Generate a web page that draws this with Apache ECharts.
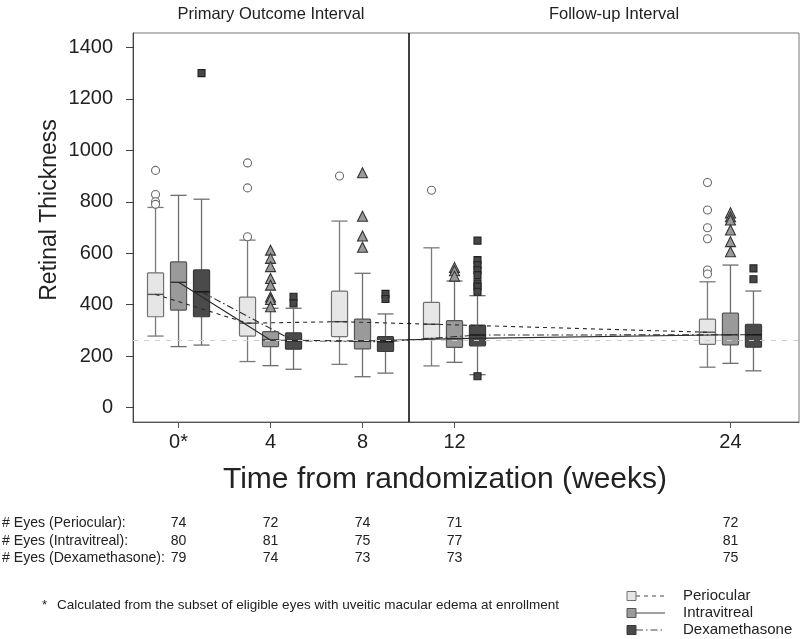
<!DOCTYPE html>
<html><head><meta charset="utf-8">
<script src="https://cdn.jsdelivr.net/npm/echarts@6/dist/echarts.min.js"></script>
<style>html,body{margin:0;padding:0;background:#fff}#c{width:800px;height:639px}</style>
</head><body><div id="c"></div><script>
// ---- data ----
const weeks = [0, 4, 8, 12, 24];
const weekLabels = ['0*', '4', '8', '12', '24'];
const yTicks = [0, 200, 400, 600, 800, 1000, 1200, 1400];
const groupNames = ['Periocular', 'Intravitreal', 'Dexamethasone'];
// [lower whisker, Q1, median, Q3, upper whisker] per week
const periocularBox = [[278,353,440,524,778],[179,278,328,429,651],[168,276,334,453,725],[162,269,324,409,621],[157,246,293,344,489]];
const intravitrealBox = [[237,379,487,566,825],[163,237,263,295,386],[120,228,259,344,522],[176,234,268,338,492],[172,244,283,367,554]];
const dexamethasoneBox = [[243,353,450,535,810],[149,227,260,291,386],[134,218,256,276,364],[128,240,282,321,435],[143,235,283,324,453]];
const periocularOutliers = [[922,828,800,790],[951,854,664],[900],[845],[875,768,699,656,535,519]];
const intravitrealOutliers = [[],[612,580,548,502,476,430,420,392],[913,744,667,623],[545,532,511],[757,742,729,690,645,606]];
const dexamethasoneOutliers = [[1300],[431,405],[442,422],[649,573,553,534,515,483,470,450,122],[541,499]];
const eyesPeriocular = [74, 72, 74, 71, 72];
const eyesIntravitreal = [80, 81, 75, 77, 81];
const eyesDexamethasone = [79, 74, 73, 73, 75];
const referenceThickness = 260;
const intervalBoundaryWeek = 10;

// ---- styling / layout ----
const FONT = 'Liberation Sans, Arial, Helvetica, sans-serif';
const BOX_W = 0.7;
const styles = [
  {offset:-1, fill:'#e6e6e6', stroke:'#707070', med:'#555', whisk:'#7a7a7a', dash:[4,4],
   sym:'circle', symSize:8, symFill:'#ffffff', symStroke:'#6a6a6a'},
  {offset:0, fill:'#9a9a9a', stroke:'#555555', med:'#333', whisk:'#6e6e6e', dash:'solid',
   sym:'triangle', symSize:10, symFill:'#9a9a9a', symStroke:'#333'},
  {offset:1, fill:'#4a4a4a', stroke:'#3a3a3a', med:'#111', whisk:'#6e6e6e', dash:[7,3,1.5,3],
   sym:'rect', symSize:7, symFill:'#474747', symStroke:'#222'}
];
const boxes = [periocularBox, intravitrealBox, dexamethasoneBox];
const outliers = [periocularOutliers, intravitrealOutliers, dexamethasoneOutliers];
const eyes = [eyesPeriocular, eyesIntravitreal, eyesDexamethasone];

const chart = echarts.init(document.getElementById('c'), null, {renderer:'canvas'});

function boxSeries(gi) {
  const st = styles[gi];
  return {
    type:'custom', name: groupNames[gi], z: 2,
    data: weeks.map((w, i) => [w + st.offset].concat(boxes[gi][i])),
    encode: {x: 0, y: [1, 2, 3, 4, 5]},
    renderItem(params, api) {
      const x = api.value(0);
      const c = k => api.coord([x, api.value(k)]);
      const hw = api.size([BOX_W, 0])[0] / 2;
      const cx = c(1)[0];
      const yMin = c(1)[1], yQ1 = c(2)[1], yMed = c(3)[1], yQ3 = c(4)[1], yMax = c(5)[1];
      const ws = {stroke: st.whisk, lineWidth: 1.3};
      return {type:'group', children:[
        {type:'line', shape:{x1:cx, y1:yMin, x2:cx, y2:yQ1}, style:ws},
        {type:'line', shape:{x1:cx, y1:yQ3, x2:cx, y2:yMax}, style:ws},
        {type:'line', shape:{x1:cx-hw, y1:yMin, x2:cx+hw, y2:yMin}, style:ws},
        {type:'line', shape:{x1:cx-hw, y1:yMax, x2:cx+hw, y2:yMax}, style:ws},
        {type:'rect', shape:{x:cx-hw, y:yQ3, width:2*hw, height:yQ1-yQ3, r:1},
         style:{fill:st.fill, stroke:st.stroke, lineWidth:1.2}},
        {type:'line', shape:{x1:cx-hw, y1:yMed, x2:cx+hw, y2:yMed}, style:{stroke:st.med, lineWidth:1.4}}
      ]};
    }
  };
}
function outlierSeries(gi) {
  const st = styles[gi];
  const data = [];
  weeks.forEach((w, i) => outliers[gi][i].forEach(v => data.push([w + st.offset, v])));
  return {type:'scatter', name: groupNames[gi] + ' outliers', z: 3, data,
    symbol: st.sym, symbolSize: st.symSize,
    itemStyle:{color: st.symFill, borderColor: st.symStroke, borderWidth: 1.1, opacity: 1}};
}
function medianLine(gi) {
  const st = styles[gi];
  return {type:'line', name: groupNames[gi] + ' median', z: 4, symbol:'none',
    data: weeks.map((w, i) => [w + st.offset, boxes[gi][i][2]]),
    lineStyle:{color:'#2a2a2a', width:1.1, type: st.dash}};
}

const series = [];
[0,1,2].forEach(g => series.push(boxSeries(g)));
[0,1,2].forEach(g => series.push(outlierSeries(g)));
[0,1,2].forEach(g => series.push(medianLine(g)));
series.push({type:'line', name:'reference', data:[], z:5,
  markLine:{silent:true, symbol:'none', label:{show:false},
    data:[{yAxis: referenceThickness, lineStyle:{color:'#cccccc', width:1.2, type:[5,6]}},
          {xAxis: intervalBoundaryWeek, lineStyle:{color:'#111', width:1.6, type:'solid'}}]}});

chart.setOption({
  animation:false,
  backgroundColor:'#fff',
  grid:{left:133, top:33, width:666, height:389, show:true, borderColor:'#777', borderWidth:1},
  xAxis:{type:'value', min:-1.98, max:26.98,
    axisLine:{show:true, onZero:false, lineStyle:{color:'#555'}},
    axisTick:{show:true, customValues:weeks, length:6, lineStyle:{color:'#555'}},
    axisLabel:{customValues:weeks, formatter: v => weekLabels[weeks.indexOf(v)],
      fontSize:20, color:'#222', margin:10, fontFamily:FONT},
    splitLine:{show:false}},
  yAxis:{type:'value', min:-56, max:1456,
    axisLine:{show:true, onZero:false, lineStyle:{color:'#444'}},
    axisTick:{show:true, customValues:yTicks, length:7, lineStyle:{color:'#444'}},
    axisLabel:{customValues:yTicks, formatter: v => String(v), fontSize:20, color:'#222', margin:20, fontFamily:FONT},
    splitLine:{show:false}},
  series
});

// ---- annotations ----
const g = [];
const txt = (x, y, text, size, align) => ({type:'text', x, y,
  style:{text, fill:'#222', font: size + 'px ' + FONT, textAlign: align || 'left', textVerticalAlign:'middle'}});
g.push(txt(271, 14, 'Primary Outcome Interval', 16.5, 'center'));
g.push(txt(614, 14, 'Follow-up Interval', 16.5, 'center'));
g.push(Object.assign(txt(50, 210, 'Retinal Thickness', 23, 'center'), {rotation: Math.PI/2}));
g.push(txt(445, 480, 'Time from randomization (weeks)', 30, 'center'));
const rowY = [523, 541, 558];
const rowLabel = ['# Eyes (Periocular):', '# Eyes (Intravitreal):', '# Eyes (Dexamethasone):'];
rowLabel.forEach((t, r) => {
  g.push(txt(2, rowY[r], t, 14.1));
  weeks.forEach((w, i) => {
    const px = chart.convertToPixel({xAxisIndex:0}, w);
    g.push(txt(px, rowY[r], String(eyes[r][i]), 14.1, 'center'));
  });
});
g.push(txt(42, 605, '*', 13));
g.push(txt(57, 605, 'Calculated from the subset of eligible eyes with uveitic macular edema at enrollment', 13.5));
const legY = [596, 613, 630];
[0,1,2].forEach(i => {
  const st = styles[i];
  g.push({type:'line', shape:{x1:636, y1:legY[i], x2:665, y2:legY[i]}, style:{stroke:'#444', lineWidth:1, lineDash: st.dash === 'solid' ? null : st.dash}});
  g.push({type:'rect', shape:{x:627, y:legY[i]-4.5, width:9, height:9}, style:{fill:st.fill, stroke:st.stroke, lineWidth:1}});
  g.push(txt(683, legY[i], groupNames[i], 15));
});
chart.setOption({graphic: g});
</script></body></html>
